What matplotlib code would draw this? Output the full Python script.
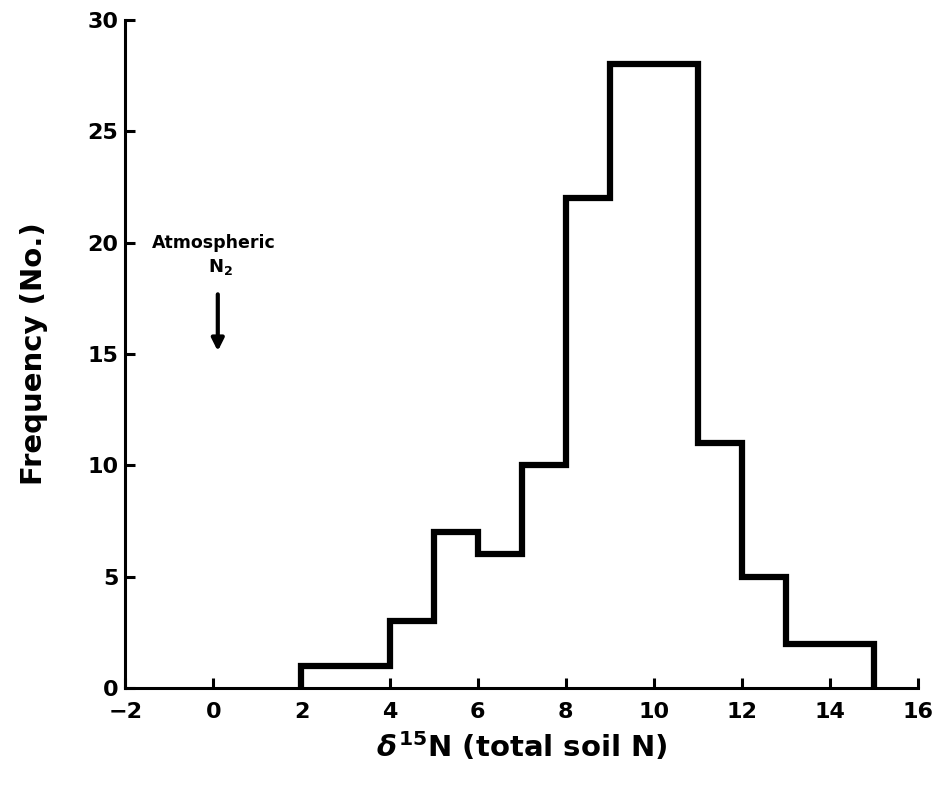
import numpy as np
import matplotlib
matplotlib.use("Agg")
import matplotlib.pyplot as plt

# ----------------------------------------------------------------------
# histogram of delta-15N (total soil N)
BIN_EDGES = [2, 4, 5, 6, 7, 8, 9, 11, 12, 13, 15]
COUNTS    = [1, 3, 7, 6, 10, 22, 28, 11, 5, 2]

X_TICKS = [-2, 0, 2, 4, 6, 8, 10, 12, 14, 16]
Y_TICKS = [0, 5, 10, 15, 20, 25, 30]
X_TICK_LABELS = ["\u22122", "0", "2", "4", "6", "8", "10", "12", "14", "16"]

ATM_X = 0.1          # atmospheric N2 reference value
ARROW_TOP, ARROW_TIP = 17.8, 15.0

plt.rcParams.update({"font.family": "DejaVu Sans", "font.weight": "bold",
                     "axes.labelweight": "bold"})

fig = plt.figure(figsize=(9.35, 7.9), dpi=100)
ax = fig.add_axes([0.134, 0.129, 0.848, 0.846])

ax.stairs(COUNTS, BIN_EDGES, color="black", linewidth=4.5, fill=False,
          baseline=0)

ax.set_xlim(-2, 16)
ax.set_ylim(0, 30)
ax.set_xticks(X_TICKS)
ax.set_xticklabels(X_TICK_LABELS)
ax.set_yticks(Y_TICKS)
for s in ("top", "right"):
    ax.spines[s].set_visible(False)
for s in ("left", "bottom"):
    ax.spines[s].set_linewidth(2.2)
ax.tick_params(direction="in", length=7, width=2.2, labelsize=16)
ax.tick_params(axis="x", pad=10)
ax.tick_params(axis="y", pad=5)

ax.set_ylabel("Frequency (No.)", fontsize=21, labelpad=28)
ax.set_xlabel(r"$\delta^{15}$N (total soil N)", fontsize=21, labelpad=6)

# atmospheric N2 marker
ax.text(ATM_X - 0.1, 20.0, "Atmospheric", ha="center", va="center",
        fontsize=12.5, fontweight="bold")
ax.text(ATM_X + 0.05, 18.9, r"N$_2$", ha="center", va="center",
        fontsize=13, fontweight="bold")
ax.annotate("", xy=(ATM_X, ARROW_TIP), xytext=(ATM_X, ARROW_TOP),
            arrowprops=dict(arrowstyle="-|>", color="black", lw=3,
                            mutation_scale=18))

fig.savefig("out.png", dpi=100)
